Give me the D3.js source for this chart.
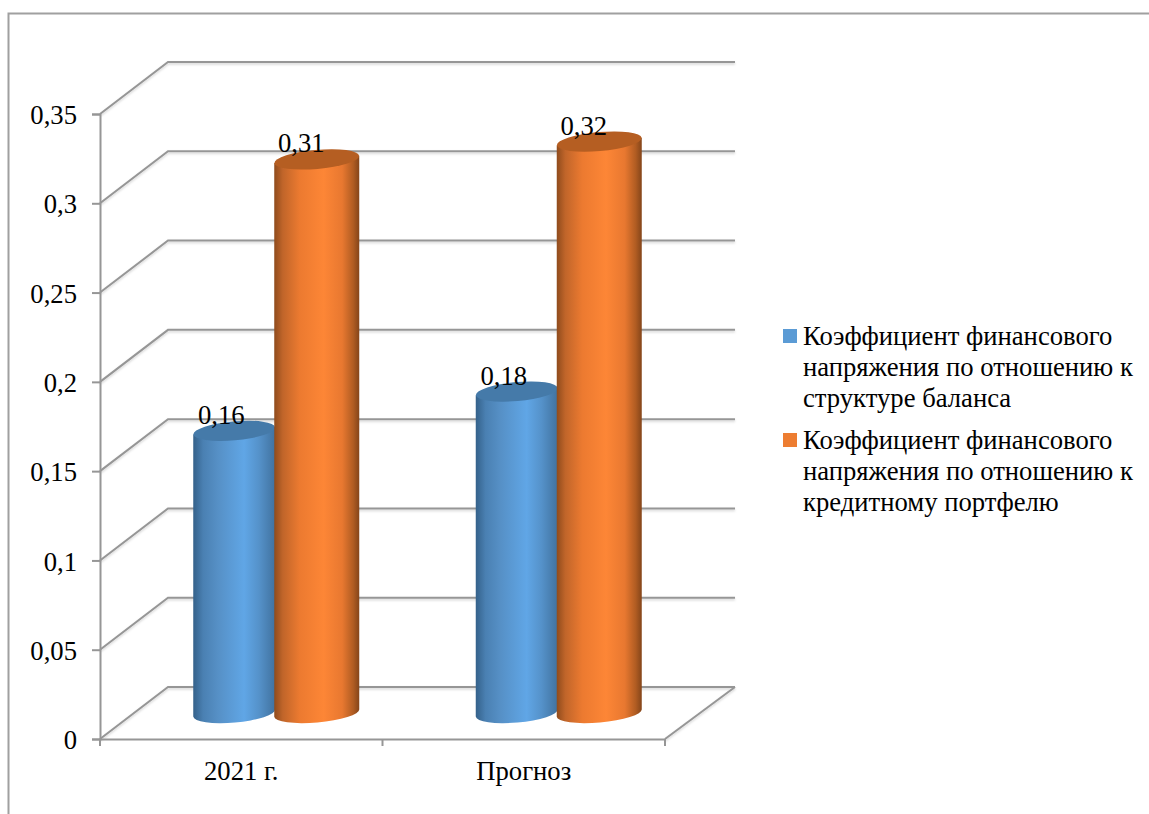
<!DOCTYPE html>
<html><head><meta charset="utf-8">
<script src="https://cdn.jsdelivr.net/npm/d3@7"></script>
<style>
html,body{margin:0;padding:0;background:#fff;overflow:hidden}
text{font-family:"Liberation Serif",serif;fill:#000}
</style></head><body>
<svg id="c" width="1149" height="814"></svg>
<script>
const categories = ["2021 г.", "Прогноз"];
const seriesNames = ["Коэффициент финансового напряжения по отношению к структуре баланса",
                     "Коэффициент финансового напряжения по отношению к кредитному портфелю"];
const series1 = [0.158, 0.18];
const series2 = [0.31, 0.32];
const dataLabels1 = ["0,16", "0,18"];
const dataLabels2 = ["0,31", "0,32"];
const yTicks = [0, 0.05, 0.1, 0.15, 0.2, 0.25, 0.3, 0.35];
const yTickLabels = ["0", "0,05", "0,1", "0,15", "0,2", "0,25", "0,3", "0,35"];
const legendLines1 = ["Коэффициент финансового", "напряжения по отношению к", "структуре баланса"];
const legendLines2 = ["Коэффициент финансового", "напряжения по отношению к", "кредитному портфелю"];

const svg = d3.select("#c");
const GREY = "#969696";
const FS = 26.67;
const depthX = 68, depthY = 52;
const front = {left:100, right:665, bottom:739, top:114};

const y = d3.scaleLinear().domain([0,0.35]).range([front.bottom, front.top]);
const xFront = d3.scaleBand().domain(categories).range([front.left, front.right]);
// bars stand half way through the depth of the floor
const xMid = d3.scaleBand().domain(categories).range([front.left+depthX/2, front.right+depthX/2]);
const barWidths = [82, 85];
const labelShift = [-13, -15.5];
const barLeft = (c,k) => xMid(c)+xMid.bandwidth()/2 + (k ? -1 : -barWidths[0]);

// frame
svg.append("path").attr("d","M8.5,814V13.5H1149").attr("fill","none").attr("stroke","#a0a0a0").attr("stroke-width",2);

const defs = svg.append("defs");
function grad(id, stops){
  const g = defs.append("linearGradient").attr("id",id).attr("x1","0").attr("x2","1").attr("y1","0").attr("y2","0");
  stops.forEach(s=>g.append("stop").attr("offset",s[0]).attr("stop-color",s[1]));
}
grad("gb",[[0,"#34618a"],[0.12,"#4a80b2"],[0.3,"#5690c6"],[0.62,"#60a6e6"],[0.8,"#5592ca"],[1,"#41729f"]]);
grad("go",[[0,"#8f4b1c"],[0.1,"#c0652a"],[0.3,"#ec7a30"],[0.58,"#fd8636"],[0.8,"#e87830"],[0.93,"#b05c22"],[1,"#84451a"]]);
const f = defs.append("filter").attr("id","sh").attr("x","-5%").attr("y","-20%").attr("width","110%").attr("height","140%");
f.append("feDropShadow").attr("dx",0).attr("dy",1.5).attr("stdDeviation",0.8).attr("flood-color","#000").attr("flood-opacity",0.18);

// grid
const grid = svg.append("g").attr("fill","none").attr("stroke",GREY).attr("stroke-width",2).attr("filter","url(#sh)");
yTicks.forEach(t=>{
  grid.append("path").attr("d",`M${front.left},${y(t)}L${front.left+depthX},${y(t)-depthY}H${front.right+depthX+2}`);
});
grid.append("path").attr("d",`M${front.right+depthX+2},${y(0)-depthY}L${front.right},${y(0)}`);

// axes
const yAxis = d3.axisLeft(y).tickValues(yTicks).tickSize(8).tickPadding(15)
  .tickFormat(d=>yTickLabels[yTicks.indexOf(d)]);
const gy = svg.append("g").attr("transform",`translate(${front.left},0)`).call(yAxis);
const xEdges = d3.axisBottom(xFront).tickSize(0).tickPadding(22);
const gx = svg.append("g").attr("transform",`translate(0,${front.bottom})`).call(xEdges);
[gy,gx].forEach(g=>{
  g.selectAll(".domain").attr("stroke",GREY).attr("stroke-width",2);
  g.selectAll("line").attr("stroke",GREY).attr("stroke-width",2);
  g.selectAll("text").attr("font-size",FS).attr("font-family",'"Liberation Serif",serif').attr("fill","#000");
});
gy.selectAll("text").attr("dy","0.36em");
gx.selectAll("text").attr("dy","0.71em");
// category boundary ticks
const edges = categories.map(c=>xFront(c)).concat(front.right);
gx.selectAll("line.edge").data(edges).join("line").attr("class","edge")
  .attr("x1",d=>d).attr("x2",d=>d).attr("y1",0).attr("y2",7).attr("stroke",GREY).attr("stroke-width",2);

// cylinders
const rows = [];
categories.forEach((c,i)=>{
  [series1,series2].forEach((s,k)=>rows.push({c,k,v:s[i],label:(k?dataLabels2:dataLabels1)[i]}));
});
const cy = v => y(v)-depthY/2;
const ry = 9.5, tilt = -5;
const rad = tilt*Math.PI/180;
const bars = svg.selectAll("g.bar").data(rows).join("g").attr("class","bar");
bars.each(function(d){
  const g = d3.select(this);
  const w = barWidths[d.k], x0 = barLeft(d.c,d.k), rx = w/2, cx = x0+rx;
  const yt = cy(d.v), yb = cy(0);
  const dy = Math.sin(rad)*rx;
  g.append("path")
    .attr("d",`M${x0},${yt-dy}L${x0+w},${yt+dy}L${x0+w},${yb+dy}`
      +`A${rx},${ry} ${tilt} 0 1 ${x0},${yb-dy}Z`)
    .attr("fill",d.k?"url(#go)":"url(#gb)");
  g.append("ellipse").attr("cx",cx).attr("cy",yt).attr("rx",rx).attr("ry",ry)
    .attr("transform",`rotate(${tilt} ${cx} ${yt})`)
    .attr("fill",d.k?"#b55e22":"#457aa9");
});
// data labels
svg.selectAll("text.dl").data(rows).join("text").attr("class","dl")
  .attr("x",d=>barLeft(d.c,d.k)+barWidths[d.k]/2+labelShift[d.k])
  .attr("y",d=>cy(d.v)-7)
  .attr("text-anchor","middle").attr("font-size",FS)
  .text(d=>d.label);

// legend
const legend = [{lines:legendLines1,color:"#5b9bd5",top:329,name:seriesNames[0]},
                {lines:legendLines2,color:"#ed7d31",top:433,name:seriesNames[1]}];
const lg = svg.selectAll("g.lg").data(legend).join("g").attr("class","lg");
lg.append("rect").attr("x",783).attr("y",d=>d.top).attr("width",14).attr("height",14).attr("fill",d=>d.color);
lg.each(function(d){
  d3.select(this).selectAll("text").data(d.lines).join("text")
    .attr("x",803).attr("y",(t,i)=>d.top+16+i*31)
    .attr("font-size",FS).text(t=>t);
});
</script></body></html>
